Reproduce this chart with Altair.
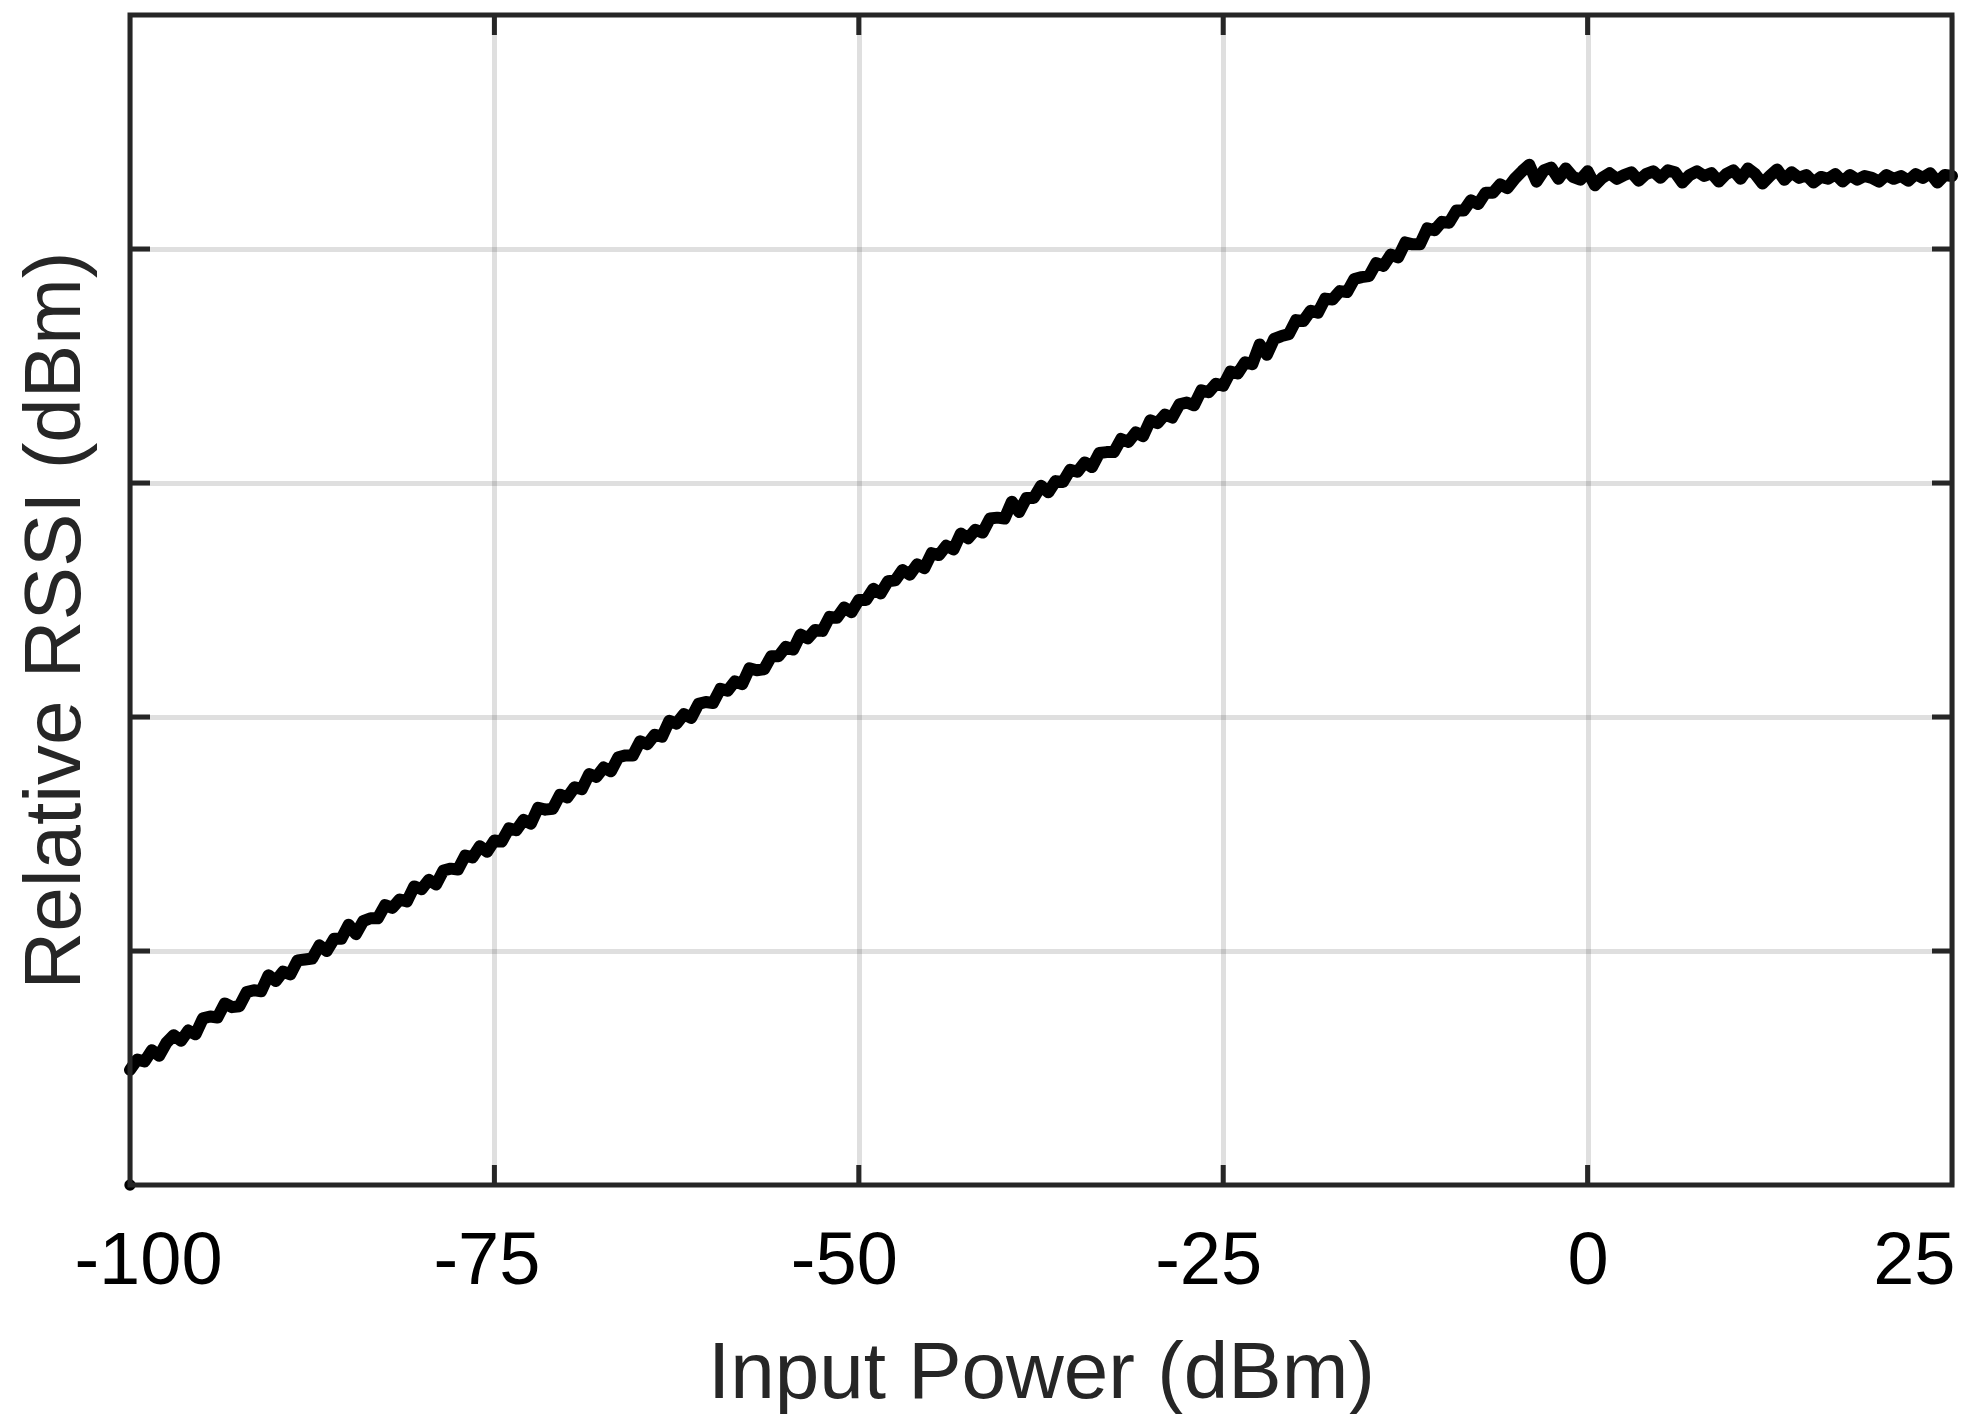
import altair as alt
import pandas as pd

# plot area in pixels (the page is 1975 x 1422)
W, H = 1822, 1170

# input power sweep, 0.5 dB steps from -100 to 25 dBm
power = [-100 + 0.5 * i for i in range(251)]

# relative RSSI, segment by segment
rssi_m100_m75 = [12.3, 13.4, 13.2, 14.4, 13.8, 15.2, 16.0, 15.4, 16.5, 16.1,
                 17.8, 18.0, 17.9, 19.4, 19.0, 19.1, 20.6, 20.8, 20.7, 22.4,
                 21.8, 22.8, 22.5, 24.0, 24.1, 24.2, 25.6, 25.0, 26.3, 26.3,
                 27.8, 26.8, 28.2, 28.5, 28.5, 29.9, 29.6, 30.5, 30.3, 31.9,
                 31.6, 32.6, 32.1, 33.6, 33.8, 33.7, 35.2, 35.0, 36.2, 35.6,
                 36.8]
rssi_m75_m50 = [36.7, 38.1, 37.9, 39.0, 38.6, 40.3, 40.1, 40.2, 41.7, 41.4,
                42.5, 42.3, 43.9, 43.6, 44.6, 44.2, 45.7, 45.9, 45.9, 47.4,
                47.1, 48.1, 47.9, 49.6, 49.3, 50.3, 49.9, 51.4, 51.6, 51.5,
                53.0, 52.8, 53.8, 53.5, 55.2, 55.0, 55.1, 56.5, 56.5, 57.5,
                57.2, 58.8, 58.4, 59.3, 59.2, 60.7, 60.6, 61.7, 61.2, 62.5]
rssi_m50_m25 = [62.5, 63.7, 63.2, 64.5, 64.6, 65.7, 65.2, 66.3, 65.9, 67.5,
                67.3, 68.3, 67.9, 69.6, 69.1, 70.0, 69.7, 71.2, 71.3, 71.2,
                73.0, 71.9, 73.4, 73.4, 74.7, 74.0, 75.2, 75.1, 76.4, 76.2,
                77.2, 76.7, 78.2, 78.3, 78.3, 79.7, 79.4, 80.4, 80.0, 81.7,
                81.4, 82.3, 82.0, 83.4, 83.6, 83.3, 84.9, 84.7, 85.6, 85.4]
rssi_m25_m10 = [86.9, 86.7, 87.9, 87.7, 89.8, 88.7, 90.4, 90.7, 90.9, 92.4,
                92.3, 93.4, 93.2, 94.7, 94.6, 95.5, 95.4, 96.8, 97.0, 97.1,
                98.5, 98.2, 99.4, 99.1, 100.7, 100.5, 100.5, 102.2, 102.0, 102.9]
rssi_knee = [102.8, 104.1, 104.1, 105.2, 104.8, 106.0, 106.0, 106.9, 106.5, 107.5,
             108.3, 109.0, 107.2, 108.4, 108.7, 107.5, 108.6, 107.7, 107.4, 108.3]
rssi_flat = [106.8, 107.6, 108.1, 107.5, 107.9, 108.2, 107.3, 108.0, 108.3, 107.6,
             108.4, 108.2, 107.1, 107.9, 108.3, 107.8, 108.1, 107.2, 108.0, 108.4,
             107.5, 108.6, 108.0, 107.0, 107.8, 108.5, 107.4, 108.2, 107.6, 107.9,
             107.1, 107.7, 107.5, 108.0, 107.2, 107.9, 107.4, 107.8, 107.6, 107.2,
             107.9, 107.5, 107.8, 107.3, 108.0, 107.6, 108.1, 107.1, 107.9, 107.8]

rssi = (rssi_m100_m75 + rssi_m75_m50 + rssi_m50_m25
        + rssi_m25_m10 + rssi_knee + rssi_flat)

x_labels = [-100, -75, -50, -25, 0, 25]
x_inner = [-75, -50, -25, 0]
y_inner = [25, 50, 75, 100]

# lone first sample sitting on the lower left corner
first_point = {"power": [-100], "rssi": [0]}

FONT = "Liberation Sans"
DARK = "#262626"

df = pd.DataFrame({"power": power, "rssi": rssi})
xt = pd.DataFrame({"power": x_inner})
yt = pd.DataFrame({"rssi": y_inner})

xs = alt.Scale(domain=[-100, 25], nice=False, zero=False)
ys = alt.Scale(domain=[0, 125], nice=False, zero=False)

x_axis = alt.Axis(
    values=x_labels, grid=True, gridColor=DARK, gridOpacity=0.15, gridWidth=5,
    domain=False, ticks=False, tickSize=0,
    labelExpr="'' + datum.value",  # plain hyphen, not the unicode minus
    labelFont=FONT, labelFontSize=74, labelColor="#000000",
    labelBaseline="alphabetic", labelPadding=98, labelFlush=False, labelOverlap=False,
    labelAlign={"condition": {"test": "datum.value == 25", "value": "right"}, "value": "center"},
    labelOffset={"condition": [{"test": "datum.value == -100", "value": 18},
                               {"test": "datum.value == -75", "value": -8},
                               {"test": "datum.value == 25", "value": 3},
                               {"test": "datum.value < 0", "value": -15}], "value": 0},
    title="Input Power (dBm)", titleFont=FONT, titleFontSize=80, titleFontWeight="normal",
    titleColor=DARK, titleBaseline="alphabetic", titleY=212,
)
y_axis = alt.Axis(
    values=y_inner, grid=True, gridColor=DARK, gridOpacity=0.15, gridWidth=5,
    domain=False, ticks=False, tickSize=0, labels=False,
    title="Relative RSSI (dBm)", titleFont=FONT, titleFontSize=80, titleFontWeight="normal",
    titleColor=DARK, titleBaseline="alphabetic", titleAlign="center", titleAngle=270,
    titleX=-51, titleY=605,
)

X = alt.X("power:Q", scale=xs, axis=x_axis)
Y = alt.Y("rssi:Q", scale=ys, axis=y_axis)

line = alt.Chart(df).mark_line(
    color="black", strokeWidth=12, strokeJoin="round", strokeCap="round"
).encode(x=X, y=Y)

dot = alt.Chart(pd.DataFrame(first_point)).mark_circle(
    size=130, color="black", opacity=1
).encode(x=X, y=Y)

tick_style = dict(color=DARK, strokeWidth=5)
bottom_ticks = alt.Chart(xt).mark_rule(**tick_style).encode(
    x=X, y=alt.value(H), y2=alt.value(H - 20))
top_ticks = alt.Chart(xt).mark_rule(**tick_style).encode(
    x=X, y=alt.value(0), y2=alt.value(20))
left_ticks = alt.Chart(yt).mark_rule(**tick_style).encode(
    y=Y, x=alt.value(0), x2=alt.value(20))
right_ticks = alt.Chart(yt).mark_rule(**tick_style).encode(
    y=Y, x=alt.value(W - 20), x2=alt.value(W))

frame = alt.Chart(pd.DataFrame({"box": [0]})).mark_rect(
    fillOpacity=0, stroke=DARK, strokeWidth=5
).encode(x=alt.value(0), x2=alt.value(W), y=alt.value(0), y2=alt.value(H))

chart = alt.layer(
    line, dot, bottom_ticks, top_ticks, left_ticks, right_ticks, frame
).properties(
    width=W, height=H,
    autosize=alt.AutoSizeParams(type="none"),
    padding={"left": 122, "top": 7, "right": 15, "bottom": 229},
    background="white",
).configure_view(strokeWidth=0)

chart.save("out.html", embed_options={"renderer": "svg", "actions": False})
